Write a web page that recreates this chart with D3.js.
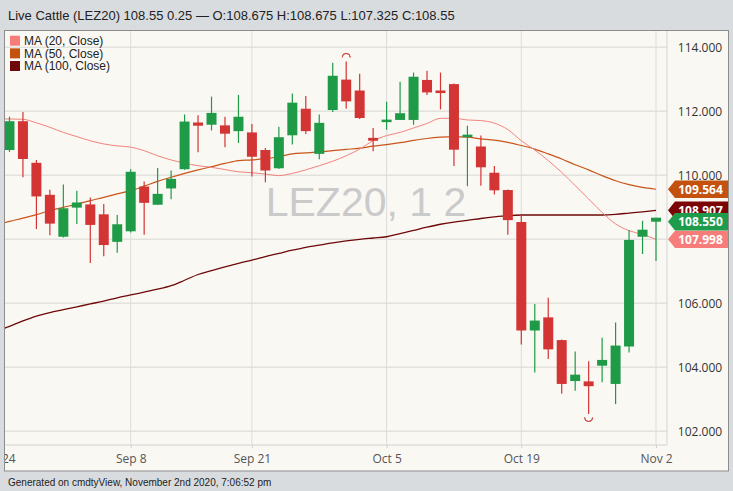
<!DOCTYPE html>
<html><head><meta charset="utf-8">
<script src="https://cdn.jsdelivr.net/npm/d3@7"></script>
<style>html,body{margin:0;padding:0;background:#d9dcdf;} svg{display:block}</style>
</head><body>
<svg id="c" width="733" height="491"></svg>
<script>
// ---- data ----
const dates = ["2020-08-25","2020-08-26","2020-08-27","2020-08-28","2020-08-31",
"2020-09-01","2020-09-02","2020-09-03","2020-09-04","2020-09-08","2020-09-09","2020-09-10","2020-09-11",
"2020-09-14","2020-09-15","2020-09-16","2020-09-17","2020-09-18","2020-09-21","2020-09-22","2020-09-23","2020-09-24","2020-09-25",
"2020-09-28","2020-09-29","2020-09-30","2020-10-01","2020-10-02","2020-10-05","2020-10-06","2020-10-07","2020-10-08","2020-10-09",
"2020-10-12","2020-10-13","2020-10-14","2020-10-15","2020-10-16","2020-10-19","2020-10-20","2020-10-21","2020-10-22","2020-10-23",
"2020-10-26","2020-10-27","2020-10-28","2020-10-29","2020-10-30","2020-11-02"];
const open  = [110.79,111.69,110.39,109.39,108.08,108.99,109.09,108.78,107.92,108.25,109.65,109.08,109.59,110.19,111.65,111.58,111.56,111.38,
111.34,110.79,110.22,111.25,112.08,110.67,112.04,112.99,112.65,111.17,111.68,111.73,111.73,112.98,112.65,112.85,111.19,110.90,110.08,109.54,
108.54,105.15,105.56,104.85,103.57,103.56,104.05,103.48,104.65,108.08,108.675];
const high  = [111.83,111.98,110.48,109.55,109.71,109.52,109.31,109.10,108.76,110.19,109.81,110.23,110.15,111.90,111.88,112.46,111.83,112.51,
111.60,110.85,111.52,112.56,112.48,111.90,113.52,113.56,113.17,111.48,112.30,112.92,113.21,113.27,113.21,112.87,111.55,111.24,110.29,109.56,
108.77,105.98,106.17,104.87,104.49,104.19,104.92,105.40,108.29,108.58,108.675];
const low   = [110.73,109.94,108.32,108.13,108.06,108.48,107.26,107.47,107.58,108.21,108.14,109.08,109.25,110.17,110.72,111.40,110.88,111.01,
109.96,109.78,110.20,110.96,111.29,110.50,111.98,112.08,111.76,110.75,111.42,111.73,111.58,112.51,112.06,110.29,109.66,109.67,109.40,108.14,
104.71,103.84,104.26,103.17,103.27,102.54,103.53,102.85,104.46,107.54,107.325];
const close = [111.69,110.51,109.34,108.49,108.97,109.15,108.45,107.82,108.47,110.11,109.14,109.42,109.89,111.68,111.55,111.95,111.30,111.83,
110.58,110.15,111.19,112.27,111.38,111.64,113.11,112.31,111.79,111.08,111.74,111.94,113.08,112.59,112.57,110.80,111.27,110.25,109.53,108.60,
105.15,105.46,104.56,103.48,103.77,103.41,104.23,104.68,107.98,108.30,108.55];

const maDates = ["2020-08-24"].concat(dates);
const ma20  = [111.76,111.76,111.75,111.64,111.50,111.34,111.21,111.08,110.98,110.92,110.88,110.77,110.61,110.48,110.38,110.30,110.25,110.18,110.11,
110.08,110.04,109.99,110.06,110.17,110.30,110.44,110.61,110.82,111.08,111.24,111.34,111.48,111.62,111.78,111.78,111.73,111.71,111.63,111.43,
111.08,110.79,110.46,110.09,109.68,109.26,108.84,108.48,108.27,108.15,107.998];
const ma50  = [108.45,108.56,108.66,108.77,108.90,109.00,109.10,109.21,109.31,109.42,109.52,109.66,109.81,109.94,110.06,110.17,110.27,110.37,110.46,
110.48,110.52,110.58,110.67,110.70,110.73,110.77,110.81,110.85,110.91,110.96,111.02,111.09,111.15,111.19,111.21,111.19,111.14,111.10,111.03,
110.93,110.82,110.67,110.51,110.33,110.17,109.99,109.83,109.71,109.62,109.564];
const ma100 = [105.12,105.28,105.45,105.60,105.71,105.80,105.89,105.98,106.07,106.17,106.26,106.35,106.44,106.55,106.72,106.90,107.02,107.14,107.25,
107.35,107.46,107.56,107.66,107.75,107.82,107.89,107.95,108.00,108.04,108.08,108.18,108.28,108.38,108.47,108.54,108.59,108.65,108.70,108.74,
108.76,108.76,108.76,108.76,108.76,108.76,108.76,108.78,108.82,108.86,108.907];

const xTickDates  = ["2020-08-24","2020-09-08","2020-09-21","2020-10-05","2020-10-19","2020-11-02"];
const xTickLabels = ["Aug 24","Sep 8","Sep 21","Oct 5","Oct 19","Nov 2"];
const yTicks = [102,104,106,108,110,112,114];
const legendNames = ["MA (20, Close)","MA (50, Close)","MA (100, Close)"];
const titleText = "Live Cattle (LEZ20) 108.55 0.25 \u2014 O:108.675 H:108.675 L:107.325 C:108.55";
const footerText = "Generated on cmdtyView, November 2nd 2020, 7:06:52 pm";
const watermark = "LEZ20, 1 2";

// ---- layout ----
const frame = {x0:4.5, y0:30.5, x1:728.5, y1:471};
const plot = {x0:5, y0:31, x1:667, y1:445};
const colors = {up:"#1f9b48", down:"#d33434", ma20:"#f2837d", ma50:"#c8561a", ma100:"#6e0808",
  tag20:"#f77d7b", tag50:"#c4520e", tag100:"#7b0404", tagPrice:"#1f9c4b"};

const svg = d3.select("#c");
svg.append("rect").attr("width",733).attr("height",491).attr("fill","#d9dcdf");
svg.append("text").attr("x",8).attr("y",20).attr("font-family","Liberation Sans, Arial, sans-serif")
  .attr("font-size",13).attr("fill","#222").text(titleText);
svg.append("rect").attr("x",frame.x0).attr("y",frame.y0).attr("width",frame.x1-frame.x0).attr("height",frame.y1-frame.y0)
  .attr("fill","#faf8f3").attr("stroke","#8d8d8d").attr("stroke-width",1);
svg.append("text").attr("x",8).attr("y",485.5).attr("font-family","Liberation Sans, Arial, sans-serif")
  .attr("font-size",10).attr("fill","#222").text(footerText);

const defs = svg.append("defs");
defs.append("clipPath").attr("id","plotClip").append("rect")
  .attr("x",plot.x0).attr("y",plot.y0).attr("width",plot.x1-plot.x0).attr("height",plot.y1-plot.y0);
defs.append("clipPath").attr("id","frameClip").append("rect")
  .attr("x",5).attr("y",31).attr("width",723).attr("height",439.5);

const x = d3.scalePoint().domain(maDates).range([-4, 656]);
const y = d3.scaleLinear().domain([102,114]).range([431.3,47.3]);

// grid
const grid = svg.append("g").attr("clip-path","url(#plotClip)");
grid.selectAll("line.h").data(yTicks).join("line").attr("class","h")
  .attr("x1",plot.x0).attr("x2",plot.x1).attr("y1",d=>y(d)).attr("y2",d=>y(d))
  .attr("stroke","#e3e1dd").attr("stroke-width",1.5);
grid.selectAll("line.v").data(xTickDates).join("line").attr("class","v")
  .attr("x1",d=>x(d)).attr("x2",d=>x(d)).attr("y1",plot.y0).attr("y2",plot.y1)
  .attr("stroke","#dcdcdc").attr("stroke-width",1);
svg.append("line").attr("x1",plot.x1).attr("x2",plot.x1).attr("y1",plot.y0).attr("y2",plot.y1).attr("stroke","#d6d6d6");
svg.append("line").attr("x1",plot.x0).attr("x2",plot.x1).attr("y1",plot.y1).attr("y2",plot.y1).attr("stroke","#dedede").attr("stroke-width",1.5);

// watermark
svg.append("text").attr("x",366).attr("y",216).attr("text-anchor","middle")
  .attr("font-family","Liberation Sans, Arial, sans-serif").attr("font-size",41).attr("fill","#cacaca").text(watermark);

// x axis (outer group clipped in page space, inner group translated)
const xAxis = d3.axisBottom(x).tickValues(xTickDates).tickFormat((d,i)=>xTickLabels[i]).tickSize(3).tickPadding(6.5);
const gxOuter = svg.append("g").attr("clip-path","url(#frameClip)");
const gx = gxOuter.append("g").attr("transform",`translate(0,${plot.y1})`).call(xAxis);
gx.select(".domain").remove();
gx.selectAll(".tick line").attr("stroke","#d0d0d0");
gx.selectAll(".tick text").attr("font-family","Open Sans, sans-serif").attr("font-size",12).attr("fill","#555");

// y axis
const yAxis = d3.axisRight(y).tickValues(yTicks).tickFormat(d3.format(".3f")).tickSize(0).tickPadding(0);
const gy = svg.append("g").attr("transform",`translate(700,0)`).call(yAxis);
gy.select(".domain").remove();
gy.selectAll(".tick text").attr("text-anchor","middle").attr("font-family","Open Sans, sans-serif").attr("font-size",12).attr("fill","#333");

// MA lines
const plotG = svg.append("g").attr("clip-path","url(#plotClip)");
function maLine(vals, color, w){
  const line = d3.line().x((d,i)=>x(maDates[i])).y(d=>y(d)).curve(d3.curveMonotoneX);
  plotG.append("path").attr("d",line(vals)).attr("fill","none").attr("stroke",color).attr("stroke-width",w);
}
maLine(ma100, colors.ma100, 1.3);
maLine(ma50, colors.ma50, 1.2);
maLine(ma20, colors.ma20, 1);

// candles
const candles = dates.map((d,i)=>({d, o:open[i], h:high[i], l:low[i], c:close[i],
  up: i===0 ? close[i]>=open[i] : close[i]>=close[i-1]}));
const bw = 10;
const cg = plotG.append("g");
cg.selectAll("line.wick").data(candles).join("line").attr("class","wick")
  .attr("x1",d=>x(d.d)).attr("x2",d=>x(d.d)).attr("y1",d=>y(d.h)).attr("y2",d=>y(d.l))
  .attr("stroke",d=>d.up?colors.up:colors.down).attr("stroke-width",1.2);
cg.selectAll("rect.body").data(candles).join("rect").attr("class","body")
  .attr("x",d=>x(d.d)-bw/2).attr("width",bw)
  .attr("y",d=>Math.min(y(d.o),y(d.c)))
  .attr("height",d=>Math.max(2.5,Math.abs(y(d.o)-y(d.c))))
  .attr("fill",d=>d.up?colors.up:colors.down);

// high / low markers
const hiIdx = d3.maxIndex(high), loIdx = d3.minIndex(low);
const arcHi = d3.arc()({innerRadius:4, outerRadius:4, startAngle:-Math.PI/2, endAngle:Math.PI/2});
const arcLo = d3.arc()({innerRadius:4, outerRadius:4, startAngle:Math.PI/2, endAngle:Math.PI*1.5});
plotG.append("path").attr("d",arcHi).attr("transform",`translate(${x(dates[hiIdx])},${y(high[hiIdx])-4})`)
  .attr("fill","none").attr("stroke","#d04a4a").attr("stroke-width",1);
plotG.append("path").attr("d",arcLo).attr("transform",`translate(${x(dates[loIdx])},${y(low[loIdx])+3.5})`)
  .attr("fill","none").attr("stroke","#d04a4a").attr("stroke-width",1);

// legend
const legColors = [colors.tag20, colors.tag50, colors.ma100];
const lg = svg.append("g");
legendNames.forEach((n,i)=>{
  const cy = 40.7 + i*12.65;
  lg.append("rect").attr("x",10).attr("y",cy-5).attr("width",10).attr("height",10).attr("fill",legColors[i]);
  lg.append("text").attr("x",24).attr("y",cy+4.3).attr("font-family","Liberation Sans, Arial, sans-serif")
    .attr("font-size",12).attr("fill","#222").text(n);
});

// last value tags
function tag(v, color){
  const cy = y(v), h = 8.7;
  const g = svg.append("g");
  g.append("path").attr("d",`M668,${cy} L675,${cy-h} L728,${cy-h} L728,${cy+h} L675,${cy+h} Z`).attr("fill",color);
  g.append("text").attr("x",700.5).attr("y",cy+4.3).attr("text-anchor","middle").attr("font-family","Open Sans, sans-serif")
    .attr("font-weight","bold").attr("font-size",12).attr("fill","#fff").text(d3.format(".3f")(v));
}
tag(ma50[ma50.length-1], colors.tag50);
tag(ma100[ma100.length-1], colors.tag100);
tag(ma20[ma20.length-1], colors.tag20);
tag(close[close.length-1], colors.tagPrice);
</script>
</body></html>
